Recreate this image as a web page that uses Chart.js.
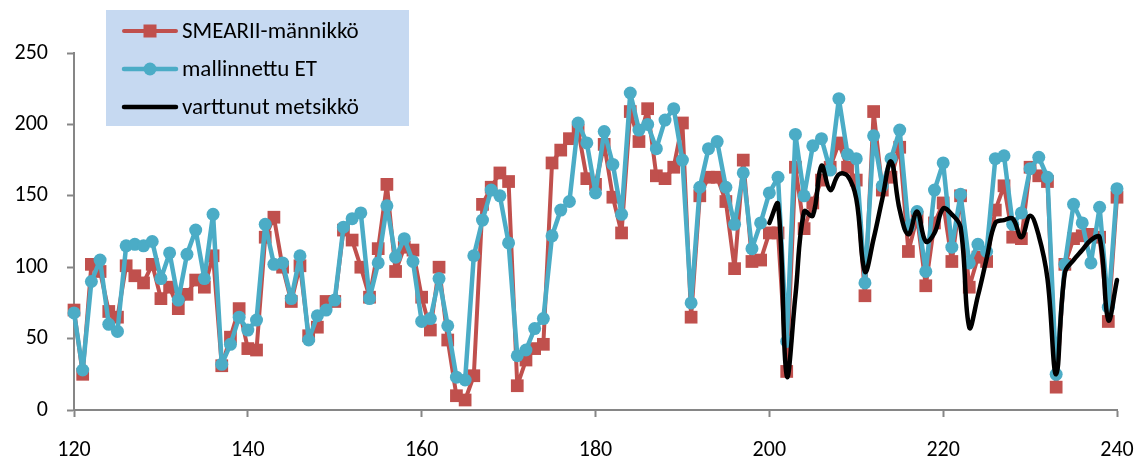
<!DOCTYPE html>
<html>
<head>
<meta charset="utf-8">
<script src="https://cdn.jsdelivr.net/npm/chart.js@4.4.1/dist/chart.umd.min.js"></script>
<style>
  html, body { margin: 0; padding: 0; background: #fff; }
  #wrap { width: 1145px; height: 464px; }
</style>
</head>
<body>
<div id="wrap"><canvas id="c" width="1145" height="464"></canvas></div>
<script>
// day of year for the first value of each series
const firstDay = 120;
const firstDayForest = 200;

// SMEARII-männikkö (measured), days 120..240
const smearValues = [
  70, 25, 102, 97, 69, 65, 101, 94, 89, 102,
  78, 86, 71, 81, 91, 86, 108, 31, 51, 71,
  43, 42, 121, 135, 100, 76, 101, 52, 58, 76,
  76, 126, 119, 100, 79, 113, 158, 97, 114, 112,
  79, 56, 100, 49, 10, 7, 24, 144, 156, 166,
  160, 17, 35, 43, 46, 173, 182, 190, 196, 162,
  158, 186, 149, 124, 209, 188, 211, 164, 162, 170,
  201, 65, 150, 163, 163, 146, 99, 175, 104, 105,
  124, 124, 27, 170, 127, 145, 161, 170, 187, 170,
  161, 80, 209, 154, 163, 184, 111, 135, 87, 131,
  145, 104, 150, 86, 107, 104, 140, 157, 121, 120,
  170, 164, 160, 16, 102, 120, 122, 123, 121, 62,
  149
];

// mallinnettu ET (modelled), days 120..240
const modelValues = [
  68, 28, 90, 105, 60, 55, 115, 116, 115, 118,
  92, 110, 77, 109, 126, 92, 137, 32, 46, 65,
  56, 63, 130, 102, 103, 78, 108, 49, 66, 70,
  77, 128, 134, 138, 78, 103, 143, 107, 120, 104,
  62, 64, 92, 59, 23, 21, 108, 133, 154, 150,
  117, 38, 42, 57, 64, 122, 140, 146, 201, 187,
  152, 195, 172, 137, 222, 196, 200, 183, 203, 211,
  175, 75, 156, 183, 188, 156, 130, 166, 113, 131,
  152, 163, 48, 193, 150, 185, 190, 168, 218, 179,
  176, 89, 192, 157, 176, 196, 128, 139, 97, 154,
  173, 114, 151, 103, 116, 111, 176, 178, 130, 138,
  169, 177, 163, 25, 102, 144, 131, 103, 142, 72,
  155
];

// varttunut metsikkö, days 200..240
const forestValues = [
  131, 144, 24, 80, 139, 136, 171, 154, 165, 164,
  148, 97, 120, 148, 174, 140, 123, 139, 118, 124,
  141, 137, 128, 58, 80, 106, 131, 133, 134, 121,
  136, 122, 92, 25, 96, 105, 112, 119, 121, 63,
  91
];

const seriesNames = ["SMEARII-männikkö", "mallinnettu ET", "varttunut metsikkö"];
const yTicks = [0, 50, 100, 150, 200, 250];
const xTicks = [120, 140, 160, 180, 200, 220, 240];

const toPoints = (start, vals) => vals.map((v, i) => ({ x: start + i, y: v }));

const RED = "#c0504d";
const BLUE = "#4bacc6";
const AXIS = "#868686";
const FONT = "Carlito, Calibri, Lato, sans-serif";

// legend box drawn inside the plot, Excel style
const boxLegend = {
  id: "boxLegend",
  afterDraw(chart) {
    const ctx = chart.ctx;
    ctx.save();
    ctx.fillStyle = "#c6d9f1";
    ctx.fillRect(106, 10, 303, 116);
    const rows = [31, 69, 107];
    chart.data.datasets.forEach((ds, i) => {
      const y = rows[i];
      ctx.strokeStyle = ds.borderColor;
      ctx.lineWidth = ds.borderWidth;
      ctx.lineCap = "round";
      ctx.beginPath();
      ctx.moveTo(124, y);
      ctx.lineTo(176, y);
      ctx.stroke();
      if (ds.pointRadius > 0) {
        ctx.fillStyle = ds.pointBackgroundColor;
        if (ds.pointStyle === "rect") {
          ctx.fillRect(150 - 6.5, y - 6.5, 13, 13);
        } else {
          ctx.beginPath();
          ctx.arc(150, y, 6.5, 0, Math.PI * 2);
          ctx.fill();
        }
      }
      ctx.fillStyle = "#000";
      ctx.font = "23px " + FONT;
      ctx.textBaseline = "middle";
      ctx.fillText(seriesNames[i], 182, y + 1);
    });
    ctx.restore();
  },
};

new Chart(document.getElementById("c"), {
  type: "line",
  data: {
    datasets: [
      {
        label: seriesNames[0],
        data: toPoints(firstDay, smearValues),
        borderColor: RED,
        backgroundColor: RED,
        pointBackgroundColor: RED,
        pointBorderWidth: 0,
        borderWidth: 4,
        borderJoinStyle: "round",
        borderCapStyle: "round",
        pointStyle: "rect",
        pointRadius: 9,
        tension: 0,
        clip: false,
        order: 3,
      },
      {
        label: seriesNames[1],
        data: toPoints(firstDay, modelValues),
        borderColor: BLUE,
        backgroundColor: BLUE,
        pointBackgroundColor: BLUE,
        pointBorderWidth: 0,
        borderWidth: 4.5,
        borderJoinStyle: "round",
        borderCapStyle: "round",
        pointStyle: "circle",
        pointRadius: 6.5,
        tension: 0,
        clip: false,
        order: 2,
      },
      {
        label: seriesNames[2],
        data: toPoints(firstDayForest, forestValues),
        borderColor: "#000",
        backgroundColor: "#000",
        borderWidth: 4.5,
        borderJoinStyle: "round",
        borderCapStyle: "round",
        pointRadius: 0,
        tension: 0.4,
        clip: false,
        order: 1,
      },
    ],
  },
  options: {
    responsive: false,
    animation: false,
    events: [],
    layout: { padding: { top: 53, right: 28, left: 0, bottom: 0 } },
    plugins: {
      legend: { display: false },
      tooltip: { enabled: false },
    },
    scales: {
      x: {
        type: "linear",
        min: 120,
        max: 240,
        afterBuildTicks: (s) => { s.ticks = xTicks.map((v) => ({ value: v })); },
        afterFit: (s) => { s.height = 54; s.paddingLeft = 0; s.paddingRight = 0; },
        grid: { drawOnChartArea: false, drawTicks: true, tickLength: 7, tickColor: AXIS, tickWidth: 2 },
        border: { color: AXIS, width: 2 },
        ticks: { color: "#000", font: { size: 22, family: FONT }, padding: 20, maxRotation: 0 },
      },
      y: {
        min: 0,
        max: 250,
        afterBuildTicks: (s) => { s.ticks = yTicks.map((v) => ({ value: v })); },
        afterFit: (s) => { s.width = 74; s.paddingTop = 0; s.paddingBottom = 0; },
        grid: { drawOnChartArea: false, drawTicks: true, tickLength: 7, tickColor: AXIS, tickWidth: 2 },
        border: { color: AXIS, width: 2 },
        ticks: { color: "#000", font: { size: 22, family: FONT }, padding: 19 },
      },
    },
  },
  plugins: [boxLegend],
});
</script>
</body>
</html>
